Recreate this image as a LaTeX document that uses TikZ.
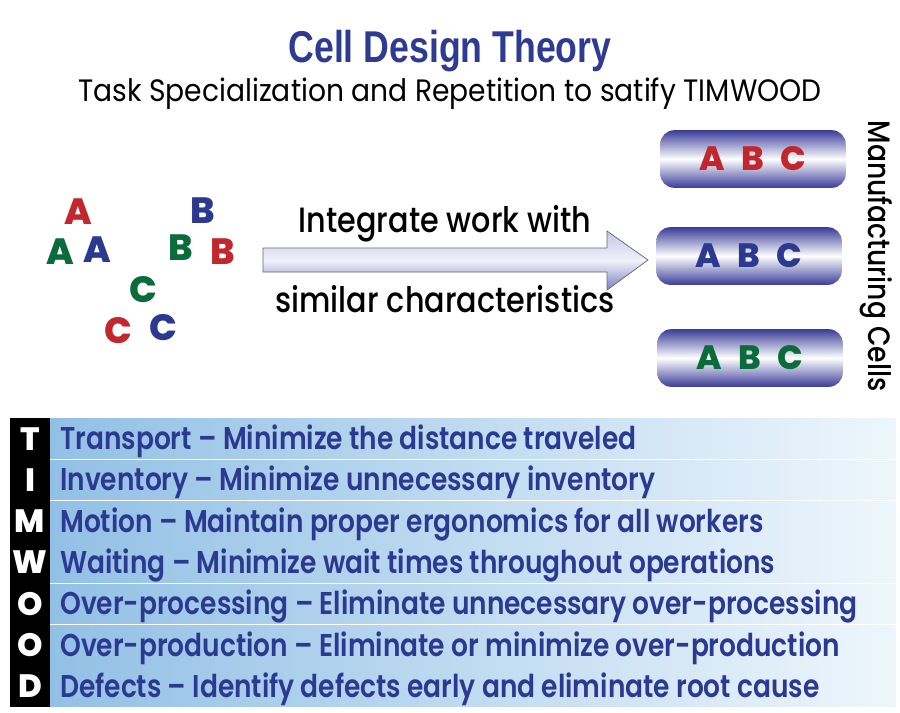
\documentclass[tikz,border=0pt]{standalone}
\usepackage{fontspec}
\usepackage{xcolor}
\usetikzlibrary{calc}
\newfontfamily\titlefont{Liberation Sans}[FakeStretch=0.8]
\newfontfamily\bodyfont{Poppins SemiBold}[FakeStretch=0.84]
\newfontfamily\midfont{Poppins Medium}[FakeStretch=0.86]
\newfontfamily\plainfont{Poppins}[FakeStretch=0.91]
\newfontfamily\heavyfont{Poppins ExtraBold}
\definecolor{titleblue}{HTML}{2E3B92}
\definecolor{listnavy}{HTML}{2B3990}
\definecolor{abcred}{HTML}{C1272D}
\definecolor{abcgreen}{HTML}{0B6B3A}
\definecolor{abcblue}{HTML}{2B3A8F}
\definecolor{cellblue}{HTML}{3A3C98}
\definecolor{bandleft}{HTML}{92C0E5}
\definecolor{bandright}{HTML}{EEF6FC}
\definecolor{arrowtop}{HTML}{C4C6E8}
\definecolor{arrowmid}{HTML}{F2F2FB}
\definecolor{arrowbot}{HTML}{7C7EC2}

\begin{document}
\begin{tikzpicture}[x=0.025cm, y=-0.025cm,
    plain-text/.style={anchor=base, inner sep=0pt, font=\plainfont\fontsize{22}{26}\selectfont},
    arrow-text/.style={anchor=base, inner sep=0pt, font=\midfont\fontsize{25}{28}\selectfont},
    loose-letter/.style={inner sep=0pt, font=\heavyfont\fontsize{26}{28}\selectfont},
    cell-box/.style={rounded corners=10pt, minimum width=132pt, minimum height=41pt,
                top color=cellblue, bottom color=cellblue, middle color=white,
                inner sep=0pt, font=\heavyfont\fontsize{24}{26}\selectfont},
    item-text/.style={anchor=base west, inner sep=0pt, text=listnavy,
                font=\bodyfont\fontsize{22.4}{26}\selectfont},
    key-letter/.style={inner sep=0pt, text=white, font=\heavyfont\fontsize{23}{26}\selectfont}]
    \useasboundingbox (0,0) rectangle (900,712);
    % title
    \node[anchor=base, inner sep=0pt, text=titleblue, font=\titlefont\bfseries\fontsize{31.7}{36}\selectfont]
        (title) at (450,62) {Cell Design Theory};
    \node[plain-text] (subtitle) at (450,101) {Task Specialization and Repetition to satify TIMWOOD};
    % scattered letters
    \node[loose-letter, text=abcred] (a1) at (78,212) {A};
    \node[loose-letter, text=abcgreen] (a2) at (60,252) {A};
    \node[loose-letter, text=abcblue] (a3) at (97,250) {A};
    \node[loose-letter, text=abcblue] (b1) at (203,211) {B};
    \node[loose-letter, text=abcgreen] (b2) at (181,248) {B};
    \node[loose-letter, text=abcred] (b3) at (223,252) {B};
    \node[loose-letter, text=abcgreen] (c1) at (143,290) {C};
    \node[loose-letter, text=abcred] (c2) at (118,331) {C};
    \node[loose-letter, text=abcblue] (c3) at (163,328) {C};
    % arrow
    \shadedraw[top color=arrowtop, bottom color=arrowbot, middle color=arrowmid, draw=black!60, line width=0.5pt]
        (263,248) -- (607,248) -- (607,231) -- (648,260) -- (607,290) -- (607,272) -- (263,272) -- cycle;
    \node[arrow-text] (integrate) at (445,232) {Integrate work with};
    \node[arrow-text] (similar) at (445,312) {similar characteristics};
    % cells
    \node[cell-box] (cell1) at (753,159) {\color{abcred}\makebox[29pt]{A}\makebox[29pt]{B}\makebox[29pt]{C}};
    \node[cell-box] (cell2) at (749,256) {\color{abcblue}\makebox[29pt]{A}\makebox[29pt]{B}\makebox[29pt]{C}};
    \node[cell-box] (cell3) at (750,358) {\color{abcgreen}\makebox[29pt]{A}\makebox[29pt]{B}\makebox[29pt]{C}};
    \node[inner sep=0pt, rotate=-90, font=\midfont\fontsize{22}{26}\selectfont] (cells) at (876,256) {Manufacturing Cells};
    % TIMWOOD list
    \fill[black] (10,418) rectangle (50,707);
    \foreach \ltr/\txt [count=\i from 0] in {
        T/{Transport – Minimize the distance traveled},
        I/{Inventory – Minimize unnecessary inventory},
        M/{Motion – Maintain proper ergonomics for all workers},
        W/{Waiting – Minimize wait times throughout operations},
        O/{Over-processing – Eliminate unnecessary over-processing},
        O/{Over-production – Eliminate or minimize over-production},
        D/{Defects – Identify defects early and eliminate root cause}} {
        \pgfmathsetmacro\ytop{418+41.3*\i}
        \shade[left color=bandleft, right color=bandright] (50,\ytop+0.8) rectangle (896,\ytop+40.5);
        \node[key-letter] (key\i) at (30,\ytop+20.6) {\ltr};
        \node[item-text] (item\i) at (60,\ytop+31.5) {\txt};
    }
\end{tikzpicture}
\end{document}
